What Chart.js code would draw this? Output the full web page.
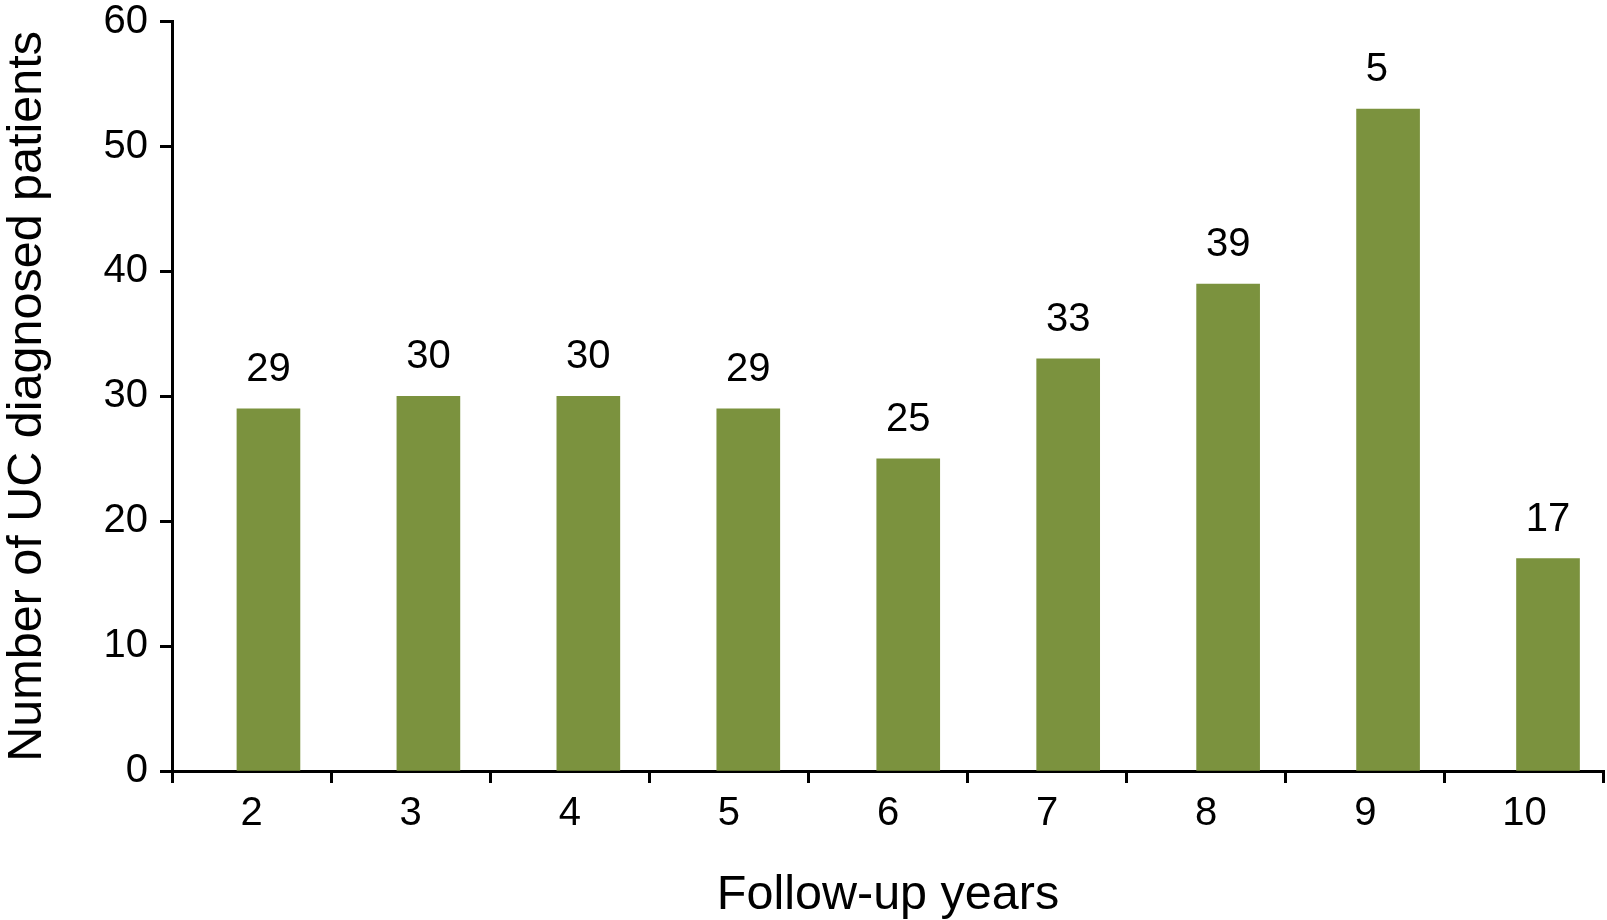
<!DOCTYPE html>
<html lang="en">
<head>
    <meta charset="UTF-8">
    <title>UC diagnosed patients by follow-up years</title>
    <style>
        body {
            margin: 0;
            background-color: #fff;
        }
        #chart {
            display: block;
        }
    </style>
</head>
<body>
    <canvas id="chart" width="1607" height="920"></canvas>

    <script src="https://cdn.jsdelivr.net/npm/chart.js"></script>
    <script>
        // values
        const years = ['2', '3', '4', '5', '6', '7', '8', '9', '10'];
        const patients = [29, 30, 30, 29, 25, 33, 39, 53, 17];
        // the printed labels (the one above year 9 is cut off in the original)
        const barLabels = ['29', '30', '30', '29', '25', '33', '39', '5', '17'];
        const yTicks = [0, 10, 20, 30, 40, 50, 60];

        const font = '"Liberation Sans", Arial, Helvetica, sans-serif';

        // labels above the bars
        const valueLabels = {
            id: 'valueLabels',
            afterDatasetsDraw(chart) {
                const ctx = chart.ctx;
                const meta = chart.getDatasetMeta(0);
                ctx.save();
                ctx.font = '40px ' + font;
                ctx.fillStyle = '#000';
                ctx.textAlign = 'left';
                ctx.textBaseline = 'alphabetic';
                meta.data.forEach((bar, i) => {
                    // centre the full number on the bar, then print what the figure shows
                    const full = ctx.measureText(String(patients[i])).width;
                    ctx.fillText(barLabels[i], bar.x - full / 2, bar.y - 28);
                });
                ctx.restore();
            }
        };

        const axisGrid = {
            drawOnChartArea: false,
            drawTicks: true,
            tickLength: 12,
            tickWidth: 3,
            tickColor: '#000'
        };

        new Chart(document.getElementById('chart'), {
            type: 'bar',
            data: {
                labels: years,
                datasets: [{
                    data: years.map((y, i) => ({ x: Number(y), y: patients[i] })),
                    backgroundColor: '#7b923e',
                    borderWidth: 0,
                    barThickness: 63,
                    xAxisID: 'xBars',
                    yAxisID: 'y'
                }]
            },
            options: {
                responsive: false,
                animation: false,
                layout: {
                    padding: { top: 21.7, right: 3, left: 0, bottom: 0 }
                },
                plugins: {
                    legend: { display: false },
                    tooltip: { enabled: false }
                },
                scales: {
                    x: {
                        type: 'category',
                        position: 'bottom',
                        offset: true,
                        grid: Object.assign({ offset: true }, axisGrid),
                        border: { display: true, color: '#000', width: 3 },
                        ticks: {
                            color: '#000',
                            padding: 7,
                            font: { family: font, size: 40, lineHeight: 1.2 },
                            maxRotation: 0
                        },
                        title: {
                            display: true,
                            text: 'Follow-up years',
                            color: '#000',
                            font: { family: font, size: 48.5, lineHeight: 1 },
                            padding: { top: 0, bottom: 0 }
                        },
                        afterFit(scale) {
                            scale.height = 149;
                        }
                    },
                    // bars sit a little right of the category centres in the original
                    xBars: {
                        type: 'linear',
                        display: false,
                        offset: false,
                        min: 1.397,
                        max: 10.35
                    },
                    y: {
                        type: 'linear',
                        min: 0,
                        max: 60,
                        grid: axisGrid,
                        border: { display: true, color: '#000', width: 3 },
                        afterBuildTicks(scale) {
                            scale.ticks = yTicks.map(v => ({ value: v }));
                        },
                        ticks: {
                            color: '#000',
                            padding: 12,
                            // small line height keeps the top label from pushing the plot down
                            font: { family: font, size: 40, lineHeight: 0.4 }
                        },
                        title: {
                            display: true,
                            text: 'Number of UC diagnosed patients',
                            color: '#000',
                            font: { family: font, size: 48.5, lineHeight: 1.1 },
                            padding: { top: 1, bottom: 0 }
                        },
                        afterFit(scale) {
                            scale.width = 172;
                        }
                    }
                }
            },
            plugins: [valueLabels]
        });
    </script>
</body>
</html>
